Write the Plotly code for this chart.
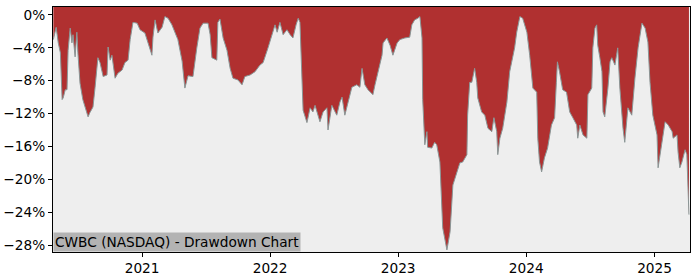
import plotly.graph_objects as go

dates = [
    "2020-04-23","2020-05-01","2020-05-07","2020-05-13","2020-05-18","2020-05-21","2020-05-27","2020-06-01",
    "2020-06-04","2020-06-10","2020-06-15","2020-06-18","2020-06-24","2020-06-29","2020-07-02","2020-07-08",
    "2020-07-16","2020-07-22","2020-07-31","2020-08-05","2020-08-14","2020-08-20","2020-08-28","2020-09-03",
    "2020-09-12","2020-09-23","2020-09-26","2020-10-02","2020-10-07","2020-10-16","2020-10-24","2020-11-05",
    "2020-11-13","2020-11-22","2020-11-28","2020-12-06","2020-12-18","2020-12-26","2021-01-09","2021-01-18",
    "2021-01-29","2021-02-01","2021-02-07","2021-02-15","2021-02-27","2021-03-07","2021-03-16","2021-03-27",
    "2021-04-05","2021-04-13","2021-04-25","2021-05-03","2021-05-12","2021-05-26","2021-06-06","2021-06-15",
    "2021-06-24","2021-07-08","2021-07-14","2021-07-19","2021-08-02","2021-08-05","2021-08-11","2021-08-20",
    "2021-08-31","2021-09-09","2021-09-17","2021-10-01","2021-10-13","2021-10-21","2021-11-05","2021-11-19",
    "2021-12-03","2021-12-12","2021-12-26","2022-01-06","2022-01-15","2022-01-21","2022-01-29","2022-02-07",
    "2022-02-18","2022-02-27","2022-03-07","2022-03-16","2022-03-22","2022-03-27","2022-04-02","2022-04-05",
    "2022-04-16","2022-04-25","2022-05-03","2022-05-09","2022-05-23","2022-06-01","2022-06-12","2022-06-15",
    "2022-06-26","2022-07-05","2022-07-10","2022-07-19","2022-07-25","2022-08-02","2022-08-11","2022-08-22",
    "2022-09-05","2022-09-14","2022-09-20","2022-09-28","2022-10-07","2022-10-21","2022-10-27","2022-11-04",
    "2022-11-16","2022-11-19","2022-11-30","2022-12-09","2022-12-17","2022-12-29","2023-01-06","2023-01-20",
    "2023-02-03","2023-02-09","2023-02-17","2023-02-26","2023-03-04","2023-03-10","2023-03-12","2023-03-18",
    "2023-03-24","2023-03-26","2023-04-07","2023-04-15","2023-04-21","2023-04-30","2023-05-05","2023-05-08",
    "2023-05-20","2023-05-23","2023-05-29","2023-06-06","2023-06-17","2023-06-26","2023-07-04","2023-07-16",
    "2023-07-18","2023-07-24","2023-07-30","2023-08-07","2023-08-13","2023-08-16","2023-08-27","2023-09-05",
    "2023-09-14","2023-09-25","2023-10-01","2023-10-09","2023-10-12","2023-10-18","2023-10-26","2023-11-07",
    "2023-11-15","2023-11-24","2023-11-29","2023-12-05","2023-12-14","2023-12-22","2024-01-03","2024-01-11",
    "2024-01-20","2024-01-31","2024-02-03","2024-02-08","2024-02-14","2024-02-22","2024-03-02","2024-03-13",
    "2024-03-22","2024-03-27","2024-03-30","2024-04-05","2024-04-14","2024-04-25","2024-05-04","2024-05-13",
    "2024-05-24","2024-05-27","2024-06-02","2024-06-11","2024-06-22","2024-06-25","2024-07-06","2024-07-09",
    "2024-07-15","2024-07-20","2024-07-23","2024-07-29","2024-08-04","2024-08-07","2024-08-12","2024-08-21",
    "2024-08-27","2024-09-01","2024-09-10","2024-09-18","2024-09-24","2024-10-03","2024-10-08","2024-10-17",
    "2024-10-28","2024-11-06","2024-11-15","2024-11-26","2024-12-05","2024-12-13","2024-12-19","2024-12-27",
    "2025-01-08","2025-01-11","2025-01-22","2025-01-31","2025-02-09","2025-02-20","2025-02-23","2025-03-06",
    "2025-03-09","2025-03-14","2025-03-20","2025-03-29","2025-04-03","2025-04-06","2025-04-09",
]

drawdown_pct = [
    -3.0,-1.5,-3.4,-4.6,-10.3,-10.1,-9.1,-9.1,
    -4.3,-1.6,-3.4,-2.4,-5.1,-2.1,-4.6,-8.3,
    -10.3,-11.2,-12.4,-11.9,-11.2,-8.8,-5.2,-5.8,
    -7.5,-7.3,-3.9,-5.5,-4.9,-7.7,-7.1,-6.7,
    -5.8,-5.5,-3.0,-0.9,-1.0,-1.8,-2.2,-3.4,
    -4.9,-2.7,-0.6,-2.2,-1.5,-0.2,-0.4,-1.2,
    -2.2,-3.0,-5.6,-8.9,-7.4,-7.5,-4.0,-1.6,
    -1.0,-1.0,-2.4,-5.2,-5.5,-0.9,-0.5,-2.8,
    -4.3,-6.5,-7.7,-7.9,-8.5,-7.5,-7.3,-6.9,
    -6.1,-5.8,-4.0,-2.4,-1.2,-2.1,-0.9,-2.4,
    -1.8,-2.4,-2.8,-1.2,-0.4,-0.9,-8.9,-11.6,
    -13.1,-11.3,-11.8,-11.0,-13.0,-11.8,-11.3,-14.0,
    -11.0,-11.8,-12.2,-10.6,-10.0,-12.2,-10.6,-8.8,
    -8.5,-8.8,-6.5,-8.5,-9.1,-9.7,-8.5,-6.9,
    -4.9,-3.4,-2.8,-3.7,-4.9,-3.4,-3.0,-2.8,
    -2.7,-1.2,-0.6,-0.4,-0.2,-2.8,-10.3,-15.8,
    -14.2,-16.1,-16.2,-15.5,-15.8,-17.9,-22.8,-25.9,
    -28.6,-28.0,-26.4,-20.7,-19.1,-18.0,-17.9,-17.0,
    -12.2,-8.2,-8.2,-6.5,-8.2,-10.1,-11.8,-12.2,
    -13.8,-14.2,-12.5,-14.2,-17.0,-15.0,-13.8,-10.6,
    -6.9,-4.9,-4.0,-2.1,-0.2,-0.4,-2.1,-4.9,
    -8.9,-9.4,-15.0,-17.9,-19.1,-17.4,-16.2,-13.4,
    -12.5,-8.2,-5.7,-6.9,-9.1,-9.4,-11.8,-12.5,
    -13.4,-15.0,-13.4,-14.6,-15.0,-9.7,-8.9,-4.0,
    -1.6,-1.2,-3.7,-5.2,-6.9,-11.8,-12.4,-8.9,
    -5.7,-5.2,-6.1,-4.0,-8.9,-13.8,-15.5,-11.3,
    -12.2,-7.7,-4.0,-1.0,-1.6,-3.3,-8.2,-12.2,
    -14.6,-18.6,-15.8,-13.0,-13.4,-14.2,-15.0,-14.6,
    -16.7,-18.6,-17.9,-16.4,-17.0,-22.3,-24.3,
]

y_tick_vals = [0, -4, -8, -12, -16, -20, -24, -28]
y_tick_text = ["0%", "−4%", "−8%", "−12%", "−16%", "−20%", "−24%", "−28%"]
x_tick_vals = ["2021-01-01", "2022-01-01", "2023-01-01", "2024-01-01", "2025-01-01"]
x_tick_text = ["2021", "2022", "2023", "2024", "2025"]
title_text = "CWBC (NASDAQ) - Drawdown Chart"

y_min, y_max = -28.85, 0.97
x_min, x_max = "2020-04-22", "2025-04-12"

fig = go.Figure()
fig.add_trace(go.Scatter(
    x=dates, y=[y_max + 1] * len(dates), mode="lines",
    line=dict(width=0, color="rgba(0,0,0,0)"), hoverinfo="skip", showlegend=False,
))
fig.add_trace(go.Scatter(
    x=dates, y=drawdown_pct, mode="lines", fill="tonexty",
    fillcolor="#b03030", line=dict(color="#8a9696", width=1),
    showlegend=False,
))

axis_common = dict(
    showline=True, linecolor="black", linewidth=1, mirror=True,
    ticks="outside", ticklen=4, tickcolor="black", showgrid=False, zeroline=False,
    automargin=False,
    tickfont=dict(family="DejaVu Sans", size=13.7, color="black"),
)
fig.update_xaxes(range=[x_min, x_max], tickvals=x_tick_vals, ticktext=x_tick_text, **axis_common)
fig.update_yaxes(range=[y_min, y_max], tickvals=y_tick_vals, ticktext=y_tick_text, **axis_common)

fig.add_annotation(
    xref="paper", yref="paper", x=0, y=0, xanchor="left", yanchor="bottom",
    text=title_text, showarrow=False, bgcolor="#b3b3b3", borderpad=1,
    font=dict(family="DejaVu Sans", size=13.7, color="black"),
)

fig.update_layout(
    width=700, height=280,
    margin=dict(l=53, r=10, t=7, b=28),
    plot_bgcolor="#eeeeee", paper_bgcolor="white",
)

fig.write_html("out.html")
